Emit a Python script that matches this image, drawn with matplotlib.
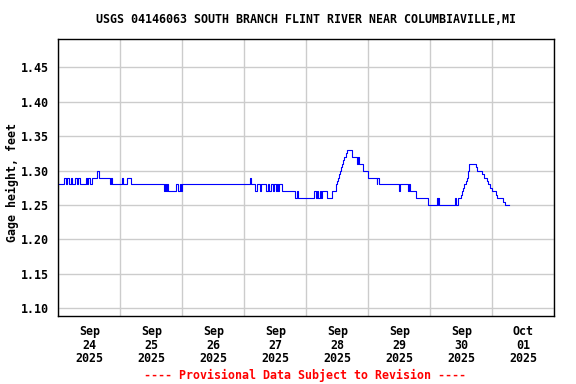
import matplotlib
matplotlib.use("Agg")
import matplotlib.pyplot as plt
from matplotlib.ticker import FixedLocator, NullFormatter

# Hours since 2025-09-24 00:00 at which the gage height changes, and the new value
hours = [
    0.0, 2.2, 3.0, 3.4, 4.1, 4.8, 5.4, 6.5, 7.2, 7.7, 8.4, 10.6, 11.1, 11.6, 12.3,
    13.2, 15.1, 15.6, 20.0, 20.5, 20.9, 24.5, 25.2, 26.7, 28.0,
    40.9, 41.3, 41.7, 42.0, 42.4, 45.7, 46.2, 47.0, 47.4, 47.8,
    74.2, 74.5, 76.3, 77.0, 78.1, 78.6, 80.4, 81.0, 81.6, 82.2, 83.0, 83.4,
    84.1, 84.6, 85.2, 85.6, 86.4, 91.8, 92.3, 92.7,
    99.0, 99.6, 100.0, 100.6, 101.3, 101.8, 102.1, 104.1, 105.8,
    107.5, 108.0, 108.4, 108.8, 109.2, 109.6, 109.9, 110.3, 110.7, 111.3, 111.9,
    113.6, 115.7, 116.0, 116.5, 117.8, 120.0, 123.2, 123.5, 124.3,
    132.0, 132.3, 135.5, 135.8, 136.1, 138.3, 143.0, 146.5, 146.8, 147.0, 147.5,
    153.6, 153.9, 154.9, 155.8, 156.3, 156.8, 157.2, 157.7, 158.1, 158.5, 158.7, 159.0, 159.1,
    161.7, 162.2, 163.9, 164.8, 165.8, 166.5, 167.1, 167.8, 169.4, 169.9, 172.3, 172.9, 174.6,
]
gage_ft = [
    1.28, 1.29, 1.28, 1.29, 1.28, 1.29, 1.28, 1.29, 1.28, 1.29, 1.28, 1.29, 1.28, 1.29, 1.28,
    1.29, 1.30, 1.29, 1.28, 1.29, 1.28, 1.29, 1.28, 1.29, 1.28,
    1.27, 1.28, 1.27, 1.28, 1.27, 1.28, 1.27, 1.28, 1.27, 1.28,
    1.29, 1.28, 1.27, 1.28, 1.27, 1.28, 1.27, 1.28, 1.27, 1.28, 1.27, 1.28,
    1.27, 1.28, 1.27, 1.28, 1.27, 1.26, 1.27, 1.26,
    1.27, 1.26, 1.27, 1.26, 1.27, 1.26, 1.27, 1.26, 1.27,
    1.28, 1.285, 1.29, 1.295, 1.30, 1.305, 1.31, 1.315, 1.32, 1.325, 1.33,
    1.32, 1.31, 1.32, 1.31, 1.30, 1.29, 1.28, 1.29, 1.28,
    1.27, 1.28, 1.27, 1.28, 1.27, 1.26, 1.25, 1.26, 1.25, 1.26, 1.25,
    1.26, 1.25, 1.26, 1.265, 1.27, 1.275, 1.28, 1.285, 1.29, 1.295, 1.30, 1.305, 1.31,
    1.305, 1.30, 1.295, 1.29, 1.285, 1.28, 1.275, 1.27, 1.265, 1.26, 1.255, 1.25, 1.25,
]

day_edges = [0, 24, 48, 72, 96, 120, 144, 168, 192]
day_centers = [12, 36, 60, 84, 108, 132, 156, 180]
day_labels = ["Sep\n24\n2025", "Sep\n25\n2025", "Sep\n26\n2025", "Sep\n27\n2025",
              "Sep\n28\n2025", "Sep\n29\n2025", "Sep\n30\n2025", "Oct\n01\n2025"]
y_ticks = [1.10, 1.15, 1.20, 1.25, 1.30, 1.35, 1.40, 1.45]

title = "USGS 04146063 SOUTH BRANCH FLINT RIVER NEAR COLUMBIAVILLE,MI"
ylabel = "Gage height, feet"
footer = "---- Provisional Data Subject to Revision ----"

FONT = dict(family="DejaVu Sans Mono", weight="bold", size=8.4)

fig = plt.figure(figsize=(5.76, 3.84), dpi=100)
ax = fig.add_axes([58.3 / 576, 1 - 315.7 / 384, (554.3 - 58.3) / 576, (315.7 - 39.3) / 384])

ax.plot(hours, gage_ft, drawstyle="steps-post", color="#0000ff", linewidth=0.8)

ax.set_xlim(0, 192)
ax.set_ylim(1.089, 1.491)

ax.xaxis.set_major_locator(FixedLocator(day_edges))
ax.xaxis.set_major_formatter(NullFormatter())
ax.xaxis.set_minor_locator(FixedLocator(day_centers))
ax.set_xticklabels(day_labels, minor=True, fontdict=FONT, linespacing=1.05)
ax.tick_params(axis="x", which="both", length=0, pad=7)

ax.set_yticks(y_ticks)
ax.set_yticklabels([f"{v:.2f}" for v in y_ticks], fontdict=FONT)
ax.tick_params(axis="y", length=0, pad=7)

ax.grid(True, which="major", color="#cccccc", linewidth=1.0)
ax.set_axisbelow(True)
for s in ax.spines.values():
    s.set_color("black")
    s.set_linewidth(1.0)

fig.text(306 / 576, 1 - 19.5 / 384, title, ha="center", va="center", **FONT)
fig.text(12 / 576, 1 - 183 / 384, ylabel, ha="center", va="center", rotation=90, **FONT)
fig.text(305.5 / 576, 1 - 375 / 384, footer, ha="center", va="center", color="red", **FONT)

fig.savefig("out.png", dpi=100)
